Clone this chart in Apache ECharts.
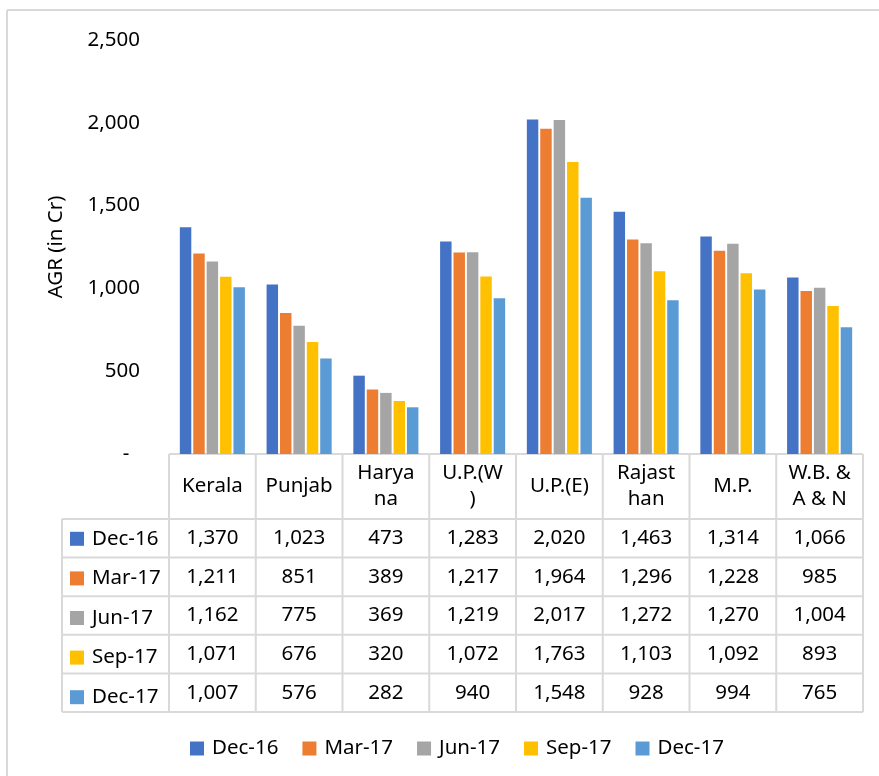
<!DOCTYPE html>
<html>
<head>
<meta charset="utf-8">
<script src="https://cdn.jsdelivr.net/npm/echarts@6/dist/echarts.min.js"></script>
<style>
html,body{margin:0;padding:0;background:#fff;}
#chart{width:879px;height:776px;}
</style>
</head>
<body>
<div id="chart"></div>
<script>
// ---- data ----
const categories = ['Kerala', 'Punjab', 'Harya\nna', 'U.P.(W\n)', 'U.P.(E)', 'Rajast\nhan', 'M.P.', 'W.B. &\nA & N'];
const seriesNames = ['Dec-16', 'Mar-17', 'Jun-17', 'Sep-17', 'Dec-17'];
const dec16 = [1370, 1023, 473, 1283, 2020, 1463, 1314, 1066];
const mar17 = [1211, 851, 389, 1217, 1964, 1296, 1228, 985];
const jun17 = [1162, 775, 369, 1219, 2017, 1272, 1270, 1004];
const sep17 = [1071, 676, 320, 1072, 1763, 1103, 1092, 893];
const dec17 = [1007, 576, 282, 940, 1548, 928, 994, 765];
const yAxisName = 'AGR (in Cr)';
const yMin = 0, yMax = 2500, yInterval = 500;

const seriesData = [dec16, mar17, jun17, sep17, dec17];
const colors = ['#4472C4', '#ED7D31', '#A5A5A5', '#FFC000', '#5B9BD5'];

// ---- layout ----
const FONT = 'Noto Sans';
const FS = 20.5;
const TXT = '#000000';
const LINE = '#D9D9D9';
const G_LEFT = 169, G_TOP = 40, G_W = 694, G_H = 414;
const G_BOTTOM = G_TOP + G_H;
const HEADER_H = 65, ROW_H = 38.6, TABLE_LEFT = 62;
const nCat = categories.length;
const colW = G_W / nCat;

function fmt(v) { return v.toLocaleString('en-US'); }

const chart = echarts.init(document.getElementById('chart'), null, {renderer: 'canvas'});

const xAxes = [{
  gridIndex: 0, type: 'category', data: categories, position: 'bottom',
  axisLine: {show: false}, axisTick: {show: false},
  axisLabel: {interval: 0, margin: HEADER_H / 2, verticalAlign: 'middle', lineHeight: 26,
    fontSize: FS, fontFamily: FONT, color: TXT}
}];
seriesData.forEach(function (arr, k) {
  xAxes.push({
    gridIndex: 0, type: 'category', data: categories, position: 'bottom',
    offset: HEADER_H + k * ROW_H + ROW_H / 2,
    axisLine: {show: false}, axisTick: {show: false}, splitLine: {show: false},
    axisLabel: {interval: 0, margin: 0, verticalAlign: 'middle', fontSize: FS, fontFamily: FONT, color: TXT,
      formatter: function (v, i) { return fmt(arr[i]); }}
  });
});

const graphics = [];
const lineStyle = {stroke: LINE, lineWidth: 2};
// outer border (top and left)
graphics.push({type: 'line', shape: {x1: 7, y1: 10, x2: 879, y2: 10}, style: lineStyle, silent: true});
graphics.push({type: 'line', shape: {x1: 7, y1: 10, x2: 7, y2: 776}, style: lineStyle, silent: true});
// table top
graphics.push({type: 'line', shape: {x1: G_LEFT, y1: G_BOTTOM, x2: G_LEFT + G_W, y2: G_BOTTOM}, style: lineStyle, silent: true});
const tableBottom = G_BOTTOM + HEADER_H + ROW_H * seriesNames.length;
for (let r = 0; r <= seriesNames.length; r++) {
  const y = G_BOTTOM + HEADER_H + r * ROW_H;
  graphics.push({type: 'line', shape: {x1: TABLE_LEFT, y1: y, x2: G_LEFT + G_W, y2: y}, style: lineStyle, silent: true});
}
for (let c = 0; c <= nCat; c++) {
  const x = G_LEFT + c * colW;
  graphics.push({type: 'line', shape: {x1: x, y1: G_BOTTOM, x2: x, y2: tableBottom}, style: lineStyle, silent: true});
}
graphics.push({type: 'line', shape: {x1: TABLE_LEFT, y1: G_BOTTOM + HEADER_H, x2: TABLE_LEFT, y2: tableBottom}, style: lineStyle, silent: true});

const legendText = {fontSize: FS, fontFamily: FONT, color: TXT, lineHeight: 20, padding: [0, 0, 0, 3]};

const option = {
  animation: false,
  backgroundColor: '#ffffff',
  color: colors,
  textStyle: {fontFamily: FONT},
  grid: {left: G_LEFT, top: G_TOP, width: G_W, height: G_H, containLabel: false},
  xAxis: xAxes,
  yAxis: {
    type: 'value', min: yMin, max: yMax, interval: yInterval,
    name: yAxisName, nameLocation: 'middle', nameGap: 102, nameRotate: 90,
    nameTextStyle: {fontSize: FS, fontFamily: FONT, color: TXT},
    axisLine: {show: false}, axisTick: {show: false}, splitLine: {show: false},
    axisLabel: {margin: 29, fontSize: FS, fontFamily: FONT, color: TXT,
      formatter: function (v) { return v === 0 ? '-  ' : fmt(v); }}
  },
  legend: [{
    data: seriesNames, orient: 'vertical', left: 70, top: G_BOTTOM + HEADER_H + ROW_H / 2 - 10,
    padding: 0, itemGap: ROW_H - 20, itemWidth: 14, itemHeight: 14, icon: 'rect',
    textStyle: legendText
  }, {
    data: seriesNames, orient: 'horizontal', left: 190, top: 738,
    padding: 0, itemGap: 24, itemWidth: 14, itemHeight: 14, icon: 'rect',
    textStyle: legendText
  }],
  series: seriesNames.map(function (name, k) {
    return {
      name: name, type: 'bar', xAxisIndex: 0, yAxisIndex: 0, data: seriesData[k],
      barGap: '17%', barCategoryGap: '25%',
      itemStyle: {color: colors[k]}
    };
  }),
  graphic: graphics
};
chart.setOption(option);
</script>
</body>
</html>
